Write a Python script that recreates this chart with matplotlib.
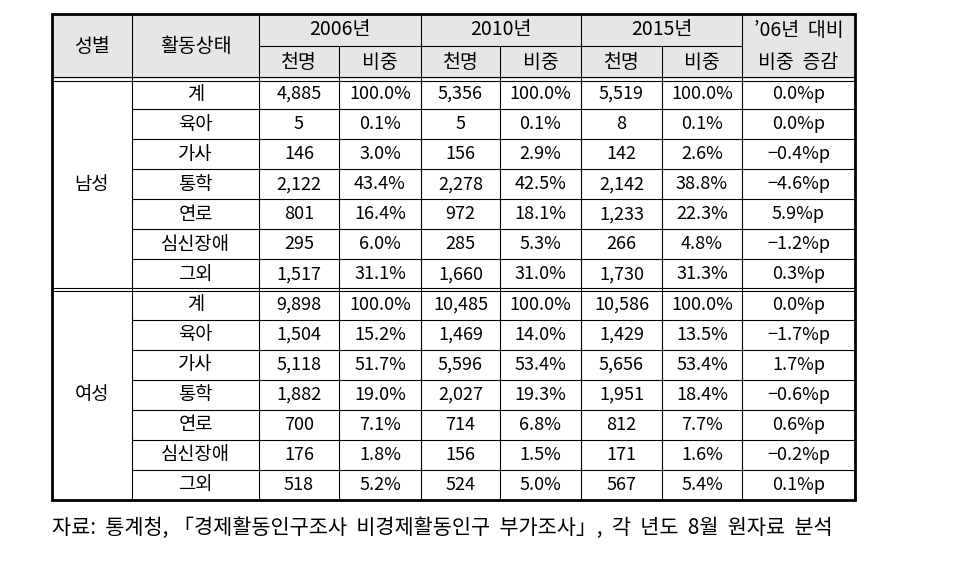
import matplotlib
matplotlib.use("Agg")
import matplotlib.pyplot as plt

plt.rcParams['font.family'] = ['Noto Sans CJK KR', 'DejaVu Sans']

# ---- data ----
groups = ["남성", "여성"]
states = ["계", "육아", "가사", "통학", "연로", "심신장애", "그외"]
years = ["2006년", "2010년", "2015년"]

male_2006 = ["4,885", "5", "146", "2,122", "801", "295", "1,517"]
male_2006_pct = ["100.0%", "0.1%", "3.0%", "43.4%", "16.4%", "6.0%", "31.1%"]
male_2010 = ["5,356", "5", "156", "2,278", "972", "285", "1,660"]
male_2010_pct = ["100.0%", "0.1%", "2.9%", "42.5%", "18.1%", "5.3%", "31.0%"]
male_2015 = ["5,519", "8", "142", "2,142", "1,233", "266", "1,730"]
male_2015_pct = ["100.0%", "0.1%", "2.6%", "38.8%", "22.3%", "4.8%", "31.3%"]
male_diff = ["0.0%p", "0.0%p", "-0.4%p", "-4.6%p", "5.9%p", "-1.2%p", "0.3%p"]

female_2006 = ["9,898", "1,504", "5,118", "1,882", "700", "176", "518"]
female_2006_pct = ["100.0%", "15.2%", "51.7%", "19.0%", "7.1%", "1.8%", "5.2%"]
female_2010 = ["10,485", "1,469", "5,596", "2,027", "714", "156", "524"]
female_2010_pct = ["100.0%", "14.0%", "53.4%", "19.3%", "6.8%", "1.5%", "5.0%"]
female_2015 = ["10,586", "1,429", "5,656", "1,951", "812", "171", "567"]
female_2015_pct = ["100.0%", "13.5%", "53.4%", "18.4%", "7.7%", "1.6%", "5.4%"]
female_diff = ["0.0%p", "-1.7%p", "1.7%p", "-0.6%p", "0.6%p", "-0.2%p", "0.1%p"]

source = "자료:  통계청, 「경제활동인구조사  비경제활동인구  부가조사」,  각  년도  8월  원자료  분석"

# ---- layout (pixel coords) ----
fig = plt.figure(figsize=(9.65, 5.65), dpi=100)
ax = fig.add_axes([0, 0, 1, 1])
ax.set_xlim(0, 965); ax.set_ylim(565, 0); ax.axis("off")

xs = [52, 132, 259, 339, 421, 500, 581, 662, 742, 855]
y_top, y_mid, y_hdr, y_bot = 14, 46, 79, 500
row_h = (y_bot - y_hdr) / 14
LW_THIN, LW_OUT = 0.8, 2.0
HDR_BG = "#e6e6e6"
FS_H, FS_K, FS_D = 14, 13.5, 13

def hline(y, x0, x1, lw=LW_THIN):
    ax.plot([x0, x1], [y, y], color="black", lw=lw, solid_capstyle="butt")

def vline(x, y0, y1, lw=LW_THIN):
    ax.plot([x, x], [y0, y1], color="black", lw=lw, solid_capstyle="butt")

def cx(i):
    return (xs[i] + xs[i + 1]) / 2

def txt(x, y, s, fs=FS_D):
    ax.text(x, y, s, ha="center", va="center", fontsize=fs, color="black")

# header background
ax.add_patch(plt.Rectangle((xs[0], y_top), xs[-1] - xs[0], y_hdr - y_top,
                           facecolor=HDR_BG, edgecolor="none", zorder=0))

# header text
txt(cx(0), (y_top + y_hdr) / 2, "성별", FS_H)
txt(cx(1), (y_top + y_hdr) / 2, "활동상태", FS_H)
for k, yr in enumerate(years):
    c0 = 2 + 2 * k
    txt((xs[c0] + xs[c0 + 2]) / 2, (y_top + y_mid) / 2, yr, FS_H)
    txt(cx(c0), (y_mid + y_hdr) / 2, "천명", FS_H)
    txt(cx(c0 + 1), (y_mid + y_hdr) / 2, "비중", FS_H)
txt(cx(8), (y_top + y_mid) / 2 + 1, "\u201906년  대비", FS_H)
txt(cx(8), (y_mid + y_hdr) / 2, "비중  증감", FS_H)

# body
blocks = [
    [male_2006, male_2006_pct, male_2010, male_2010_pct,
     male_2015, male_2015_pct, male_diff],
    [female_2006, female_2006_pct, female_2010, female_2010_pct,
     female_2015, female_2015_pct, female_diff],
]
for g, (gname, cols) in enumerate(zip(groups, blocks)):
    g0 = y_hdr + g * 7 * row_h
    txt(cx(0), g0 + 3.5 * row_h, gname, FS_K)
    for r, st in enumerate(states):
        yc = g0 + (r + 0.5) * row_h
        txt(cx(1), yc, st, FS_K)
        for j, col in enumerate(cols):
            txt(cx(2 + j), yc, col[r].replace("-", "\u2212"))
        if r > 0:
            hline(g0 + r * row_h, xs[1], xs[-1])

# grid lines
hline(y_mid, xs[2], xs[8])
for x in [xs[1], xs[2], xs[4], xs[6], xs[8]]:
    vline(x, y_top, y_bot)
for x in [xs[3], xs[5], xs[7]]:
    vline(x, y_mid, y_bot)
# double lines
hline(y_hdr - 1.6, xs[0], xs[-1]); hline(y_hdr + 1.6, xs[0], xs[-1])
y_split = y_hdr + 7 * row_h
hline(y_split - 1.6, xs[0], xs[-1]); hline(y_split + 1.6, xs[0], xs[-1])
# outer frame
ax.add_patch(plt.Rectangle((xs[0], y_top), xs[-1] - xs[0], y_bot - y_top,
                           facecolor="none", edgecolor="black", lw=LW_OUT, zorder=5))

ax.text(xs[0], 528, source, ha="left", va="center", fontsize=15, color="black")

fig.savefig("out.png", dpi=100)
